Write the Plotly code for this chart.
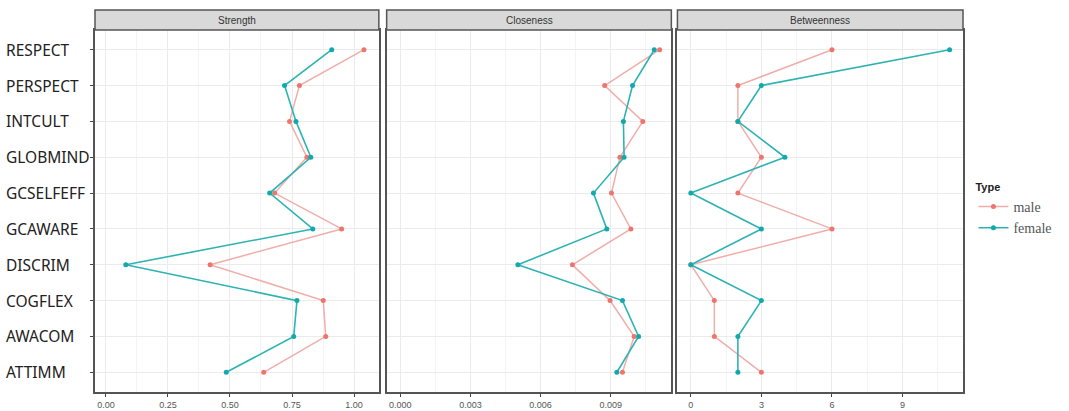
import plotly.graph_objects as go
from plotly.subplots import make_subplots

# ---- data ----
nodes = ["RESPECT", "PERSPECT", "INTCULT", "GLOBMIND", "GCSELFEFF",
         "GCAWARE", "DISCRIM", "COGFLEX", "AWACOM", "ATTIMM"]
measures = ["Strength", "Closeness", "Betweenness"]

strength_male = [1.04, 0.78, 0.74, 0.81, 0.68, 0.95, 0.42, 0.876, 0.886, 0.636]
strength_female = [0.91, 0.72, 0.766, 0.826, 0.66, 0.834, 0.08, 0.77, 0.757, 0.485]
closeness_male = [0.01109, 0.00874, 0.01037, 0.00939, 0.00903, 0.00986, 0.00736, 0.00897, 0.0100, 0.0095]
closeness_female = [0.01086, 0.00993, 0.00954, 0.00957, 0.00826, 0.00883, 0.00503, 0.0095, 0.01019, 0.00926]
betweenness_male = [6, 2, 2, 3, 2, 6, 0, 1, 1, 3]
betweenness_female = [11, 3, 2, 4, 0, 3, 0, 3, 2, 2]

x_ticks = {
    "Strength": ([0, 0.25, 0.5, 0.75, 1.0], ["0.00", "0.25", "0.50", "0.75", "1.00"]),
    "Closeness": ([0, 0.003, 0.006, 0.009], ["0.000", "0.003", "0.006", "0.009"]),
    "Betweenness": ([0, 3, 6, 9], ["0", "3", "6", "9"]),
}
x_minor = {"Strength": 0.125, "Closeness": 0.0015, "Betweenness": 1.5}
x_ranges = {"Strength": [-0.044, 1.10], "Closeness": [-0.00058, 0.01159], "Betweenness": [-0.57, 11.57]}

series = {
    "Strength": (strength_male, strength_female),
    "Closeness": (closeness_male, closeness_female),
    "Betweenness": (betweenness_male, betweenness_female),
}

male_line = "rgba(236,160,155,0.85)"
male_marker = "#EE756E"
female_line = "#2DB3B3"
female_marker = "#12A9AC"

fig = make_subplots(rows=1, cols=3, shared_yaxes=False, horizontal_spacing=0.009)
domains = [[0.0, 0.327], [0.336, 0.664], [0.671, 1.0]]

cat_order = list(reversed(nodes))

for i, m in enumerate(measures):
    male, female = series[m]
    fig.add_trace(go.Scatter(
        x=male, y=nodes, mode="lines+markers", name="male",
        line=dict(color=male_line, width=1.5),
        marker=dict(color=male_marker, size=5),
        showlegend=(i == 0), legendgroup="male"), row=1, col=i + 1)
    fig.add_trace(go.Scatter(
        x=female, y=nodes, mode="lines+markers", name="female",
        line=dict(color=female_line, width=1.6),
        marker=dict(color=female_marker, size=5),
        showlegend=(i == 0), legendgroup="female"), row=1, col=i + 1)

    xa = "xaxis" if i == 0 else f"xaxis{i+1}"
    ya = "yaxis" if i == 0 else f"yaxis{i+1}"
    tv, tt = x_ticks[m]
    fig.layout[xa].update(
        domain=domains[i], range=x_ranges[m], tickvals=tv, ticktext=tt, automargin=False,
        showgrid=True, gridcolor="#EBEBEB", gridwidth=1,
        minor=dict(showgrid=True, gridcolor="#F4F4F4", dtick=x_minor[m], tick0=0, gridwidth=1),
        zeroline=False, showline=True, mirror=True, linecolor="#555555", linewidth=1.5,
        ticks="outside", ticklen=3, tickcolor="#444444",
        tickfont=dict(family="Liberation Sans, Arial", size=9, color="#555555"))
    fig.layout[ya].update(
        type="category", categoryorder="array", categoryarray=cat_order, automargin=False,
        range=[-0.55, 9.55], showticklabels=False,
        showgrid=True, gridcolor="#EBEBEB", gridwidth=1, zeroline=False,
        showline=True, mirror=True, linecolor="#555555", linewidth=1.5,
        ticks="outside" if i == 0 else "", ticklen=3, tickcolor="#444444")

    xref = "x domain" if i == 0 else f"x{i+1} domain"
    fig.add_shape(type="rect", xref=xref, yref="paper", x0=0, x1=1, y0=1.0, y1=1.055,
                  fillcolor="#D9D9D9", line=dict(color="#555555", width=1.5), layer="above")
    fig.add_annotation(xref=xref, yref="paper", x=0.5, y=1.0275, text=m, showarrow=False,
                       font=dict(family="Liberation Sans, Arial", size=10, color="#333333"),
                       xanchor="center", yanchor="middle")

for n in nodes:
    fig.add_annotation(xref="paper", yref="y", x=-0.1037, y=n, text=n, showarrow=False,
                       xanchor="left", yanchor="middle", xshift=-1,
                       font=dict(family="Noto Sans, Open Sans", size=15.5, color="#222222"))

fig.update_layout(
    width=1069, height=411,
    margin=dict(l=95, r=106, t=30, b=19, autoexpand=False),
    plot_bgcolor="white", paper_bgcolor="white",
    legend=dict(
        title=dict(text="<b>Type</b>", font=dict(family="Liberation Sans, Arial", size=11, color="#222222")),
        x=1.012, y=0.595, xanchor="left", yanchor="top",
        font=dict(family="Liberation Serif, Times New Roman", size=14, color="#555555"),
        itemwidth=30, tracegroupgap=0, bgcolor="rgba(0,0,0,0)"),
)

fig.write_html("out.html", config={"displayModeBar": False},
               post_script="document.body.style.margin='0';document.body.style.overflow='hidden';")
